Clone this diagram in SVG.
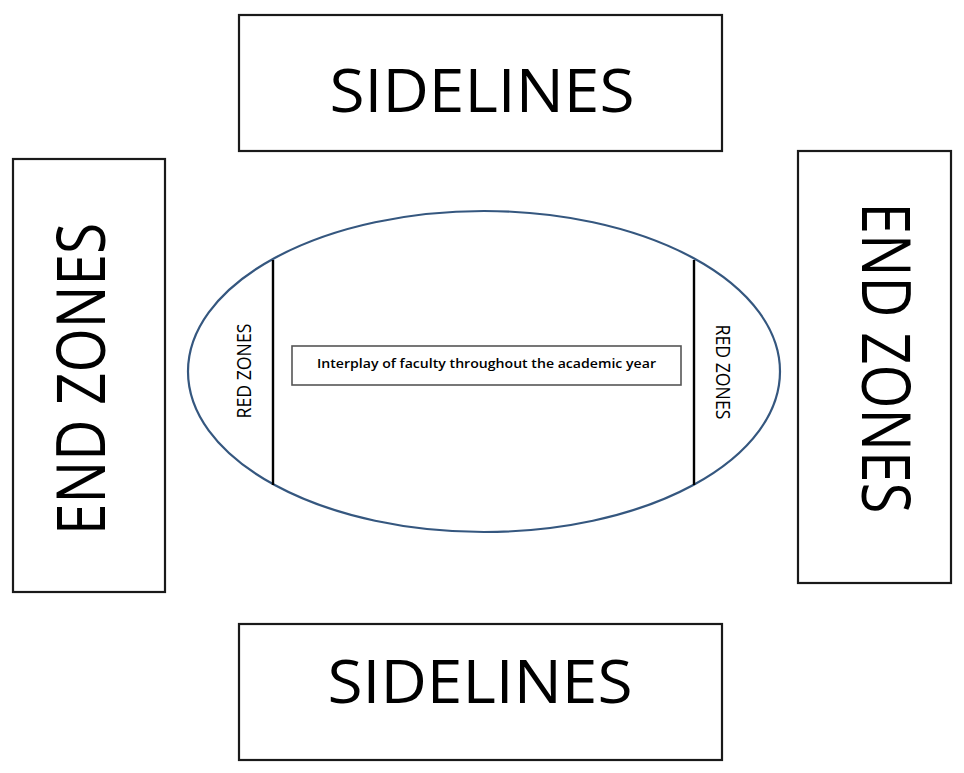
<svg xmlns="http://www.w3.org/2000/svg" width="964" height="773" viewBox="0 0 964 773">
<style>
.box{fill:#fff;stroke:#1a1a1a;stroke-width:2.2}
.big{font-family:"Open Sans","Liberation Sans",sans-serif;fill:#000;text-anchor:middle}
.field{fill:none;stroke:#35577f;stroke-width:2.2}
.line{stroke:#000;stroke-width:2.4}
.inner{fill:#fff;stroke:#555;stroke-width:1.6}
</style>
<rect width="964" height="773" fill="#fff"/>
<g id="sidelines-top">
<rect class="box" x="239" y="15" width="483" height="136"/>
<text class="big" x="482" y="112" font-size="61" textLength="305" lengthAdjust="spacingAndGlyphs">SIDELINES</text>
</g>
<g id="sidelines-bottom">
<rect class="box" x="239" y="624" width="483" height="136"/>
<text class="big" x="480" y="703" font-size="61" textLength="305" lengthAdjust="spacingAndGlyphs">SIDELINES</text>
</g>
<g id="endzones-left">
<rect class="box" x="13" y="159" width="152" height="433"/>
<text class="big" transform="translate(105,379) rotate(-90)" font-size="67" textLength="312" lengthAdjust="spacingAndGlyphs">END ZONES</text>
</g>
<g id="endzones-right">
<rect class="box" x="798" y="151" width="153" height="432"/>
<text class="big" transform="translate(862,358) rotate(90)" font-size="67" textLength="311" lengthAdjust="spacingAndGlyphs">END ZONES</text>
</g>
<g id="field">
<ellipse class="field" cx="484" cy="371.5" rx="296" ry="160.5"/>
</g>
<g id="connectors">
<line class="line" x1="273" y1="260" x2="273" y2="485"/>
<line class="line" x1="694" y1="260" x2="694" y2="485"/>
</g>
<g id="redzone-left">
<text class="big" transform="translate(251,371) rotate(-90)" font-size="20" textLength="95" lengthAdjust="spacingAndGlyphs">RED ZONES</text>
</g>
<g id="redzone-right">
<text class="big" transform="translate(716,372) rotate(90)" font-size="20" textLength="95" lengthAdjust="spacingAndGlyphs">RED ZONES</text>
</g>
<g id="interplay">
<rect class="inner" x="292" y="346" width="389" height="39"/>
<text class="big" x="486.5" y="368" font-size="13" font-weight="600" textLength="339" lengthAdjust="spacingAndGlyphs">Interplay of faculty throughout the academic year</text>
</g>
</svg>
